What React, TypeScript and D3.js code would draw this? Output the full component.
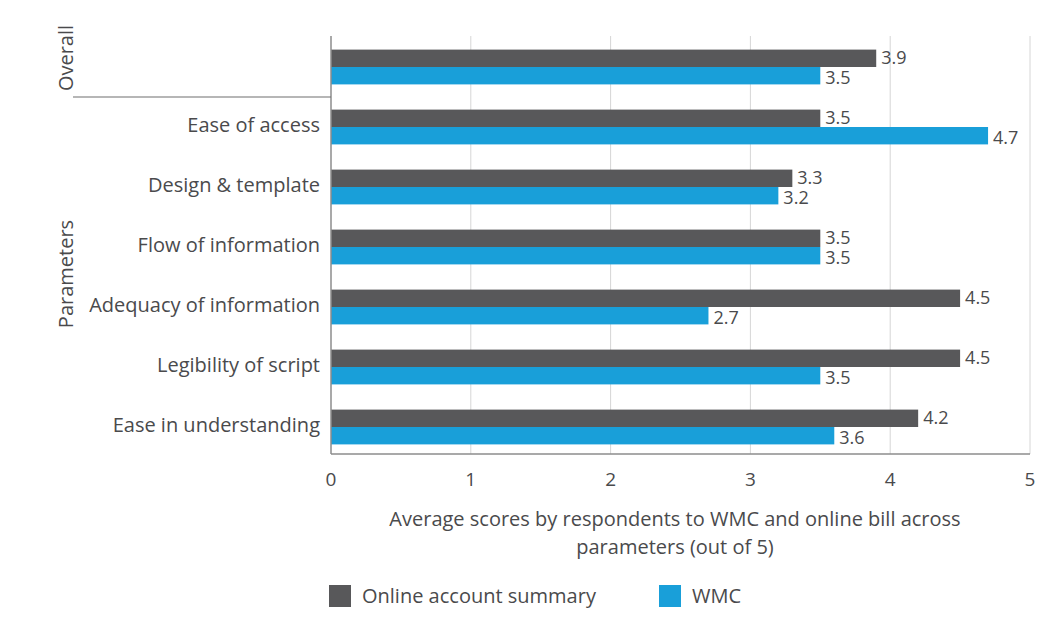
import * as d3 from "d3";

const categories = [
  "Overall",
  "Ease of access",
  "Design & template",
  "Flow of information",
  "Adequacy of information",
  "Legibility of script",
  "Ease in understanding",
];
const onlineSummary = [3.9, 3.5, 3.3, 3.5, 4.5, 4.5, 4.2];
const wmc = [3.5, 4.7, 3.2, 3.5, 2.7, 3.5, 3.6];
const xTicks = [0, 1, 2, 3, 4, 5];
const seriesNames = ["Online account summary", "WMC"];
const seriesColors = ["#58585a", "#199fd9"];

const W = 1054;
const H = 642;
const FONT = "'Open Sans', 'Noto Sans', sans-serif";
const TEXT = "#4a4a4c";

export default function App() {
  const x = d3.scaleLinear().domain([0, 5]).range([331, 1030]);
  const y = d3
    .scaleBand<string>()
    .domain(categories)
    .range([37, 457])
    .paddingInner(0.42)
    .paddingOuter(0.21);
  const sub = d3
    .scaleBand<number>()
    .domain([0, 1])
    .range([0, y.bandwidth()]);

  const series = [onlineSummary, wmc];
  const plotTop = 36;
  const plotBottom = 454;

  // band boundary between "Overall" and the parameters
  const sepY = (y(categories[0])! + y.bandwidth() + y(categories[1])!) / 2;
  const paramMid =
    (y(categories[1])! + y(categories[categories.length - 1])! + y.bandwidth()) / 2;
  const overallMid = y(categories[0])! + y.bandwidth() / 2 - 9;

  return (
    <svg
      width={W}
      height={H}
      style={{ position: "absolute", left: 0, top: 0, background: "#fff" }}
      fontFamily={FONT}
    >
      {/* gridlines */}
      {xTicks.slice(1).map((t) => (
        <line
          key={t}
          x1={x(t)}
          x2={x(t)}
          y1={plotTop}
          y2={plotBottom}
          stroke="#d6d6d6"
          strokeWidth={1}
        />
      ))}

      {/* bars */}
      {categories.map((c, i) => (
        <g key={c} transform={`translate(0,${y(c)})`}>
          {series.map((s, j) => (
            <g key={j}>
              <rect
                x={x(0)}
                y={sub(j)}
                width={x(s[i]) - x(0)}
                height={sub.bandwidth()}
                fill={seriesColors[j]}
              />
              <text
                x={x(s[i]) + 5}
                y={sub(j)! + sub.bandwidth() / 2 + (j === 0 ? -1 : 1.5)}
                dominantBaseline="central"
                fontSize={18}
                fill={TEXT}
              >
                {s[i].toFixed(1)}
              </text>
            </g>
          ))}
          <text
            x={320}
            y={y.bandwidth() / 2 - 2}
            dominantBaseline="central"
            textAnchor="end"
            fontSize={20}
            fill={TEXT}
          >
            {i === 0 ? "" : c}
          </text>
        </g>
      ))}

      {/* axis frame */}
      <line x1={x(0)} x2={x(0)} y1={plotTop} y2={plotBottom} stroke="#8c8c8c" strokeWidth={1.5} />
      <line x1={x(0)} x2={x(5)} y1={plotBottom} y2={plotBottom} stroke="#8c8c8c" strokeWidth={1.5} />
      <line x1={73} x2={x(0)} y1={sepY} y2={sepY} stroke="#6e6e6e" strokeWidth={1.2} />

      {/* group labels */}
      <text
        transform={`translate(73,${overallMid}) rotate(-90)`}
        textAnchor="middle"
        fontSize={20}
        fill={TEXT}
      >
        Overall
      </text>
      <text
        transform={`translate(73,${paramMid - 3}) rotate(-90)`}
        textAnchor="middle"
        fontSize={20}
        fill={TEXT}
      >
        Parameters
      </text>

      {/* x tick labels */}
      {xTicks.map((t) => (
        <text key={t} x={x(t)} y={486} textAnchor="middle" fontSize={19} fill={TEXT}>
          {t}
        </text>
      ))}

      {/* axis title */}
      <text x={675} y={526} textAnchor="middle" fontSize={20} fill={TEXT}>
        Average scores by respondents to WMC and online bill across
      </text>
      <text x={675} y={554} textAnchor="middle" fontSize={20} fill={TEXT}>
        parameters (out of 5)
      </text>

      {/* legend */}
      {seriesNames.map((n, j) => {
        const lx = j === 0 ? 329 : 659;
        return (
          <g key={n}>
            <rect x={lx} y={585} width={22} height={22} fill={seriesColors[j]} />
            <text x={lx + 33} y={603} fontSize={20} fill={TEXT}>
              {n}
            </text>
          </g>
        );
      })}
    </svg>
  );
}
